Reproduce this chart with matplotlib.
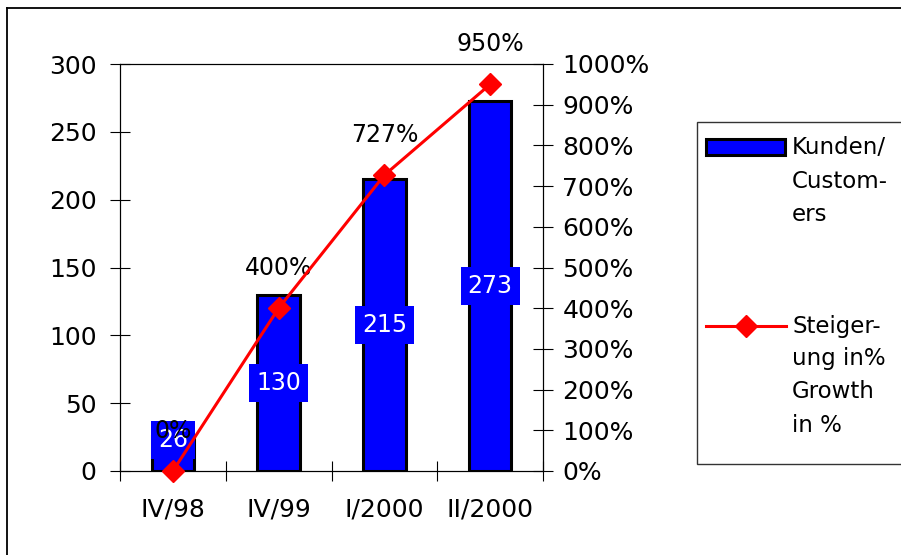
import numpy as np
import matplotlib.pyplot as plt
from matplotlib.lines import Line2D
from matplotlib.patches import Rectangle
from matplotlib.ticker import FuncFormatter

# Daten
quartale = ["IV/98", "IV/99", "I/2000", "II/2000"]
kunden = [26, 130, 215, 273]
wachstum = [0, 400, 727, 950]

label_kunden = "Kunden/\nCustom-\ners"
label_wachstum = "Steiger-\nung in%\nGrowth\nin %"

BLAU = '#0000ff'
ROT = '#ff0000'
FS = 18

W, H = 901, 555
fig = plt.figure(figsize=(W / 100, H / 100), dpi=100)
fig.patch.set_facecolor('white')


def fx(px):
    return px / W


def fy(py):
    return 1 - py / H


# Rahmen um das Diagramm (rechts/unten abgeschnitten)
fig.add_artist(Line2D([fx(7), fx(7)], [fy(8), 0], color='black', lw=1.3))
fig.add_artist(Line2D([fx(7), 1], [fy(8), fy(8)], color='black', lw=1.3))

ax = fig.add_axes([fx(120), fy(471), fx(543) - fx(120), fy(64) - fy(471)])
ax2 = ax.twinx()

x = np.arange(len(quartale))
balken = ax.bar(x, kunden, width=0.4, color=BLAU, edgecolor='black',
                linewidth=2.2, zorder=2)
ax.set_xlim(-0.5, len(quartale) - 0.5)
ax.set_ylim(0, 300)
ax2.set_ylim(0, 1000)

for xi, v in zip(x, kunden):
    ax.text(xi, max(v / 2, 23), str(v), ha='center', va='center',
            color='white', fontsize=FS - 1, zorder=4,
            bbox=dict(boxstyle='square,pad=0.3', facecolor=BLAU, edgecolor='none'))

linie, = ax2.plot(x, wachstum, color=ROT, lw=2.2, marker='D', ms=11,
                  clip_on=False, zorder=5)
for xi, v in zip(x, wachstum):
    ax2.annotate(f"{v}%", (xi, v), xytext=(0, 29), textcoords='offset points',
                 ha='center', va='center', fontsize=FS - 1, annotation_clip=False)

# Achsen
ax.set_yticks(range(0, 301, 50))
ax.tick_params(axis='y', direction='inout', length=14, width=0.8,
               pad=10, labelsize=FS)
ax.set_xticks(np.arange(-0.5, len(quartale), 1.0))
ax.set_xticklabels([])
ax.set_xticks(x, minor=True)
ax.set_xticklabels(quartale, minor=True)
ax.tick_params(axis='x', which='major', direction='inout', length=14, width=0.8)
ax.tick_params(axis='x', which='minor', length=0, pad=19, labelsize=FS)

ax2.set_yticks(range(0, 1001, 100))
ax2.yaxis.set_major_formatter(FuncFormatter(lambda v, p: f"{v:.0f}%"))
ax2.tick_params(axis='y', direction='inout', length=14, width=0.8,
                pad=7, labelsize=FS)

for a in (ax, ax2):
    for sp in a.spines.values():
        sp.set_linewidth(0.8)

# Legende (von Hand, Symbol auf Höhe der ersten Textzeile)
fig.add_artist(Rectangle((fx(697), fy(464)), 1 - fx(697) + 0.05, fy(122) - fy(464),
                         transform=fig.transFigure, facecolor='white',
                         edgecolor='#333333', lw=1.0))
fig.add_artist(Rectangle((fx(706), fy(155)), fx(785) - fx(706), fy(139) - fy(155),
                         transform=fig.transFigure, facecolor=BLAU,
                         edgecolor='black', lw=2.2))
fig.add_artist(Line2D([fx(706), fx(786)], [fy(326), fy(326)], color=ROT, lw=2.2))
fig.add_artist(Line2D([fx(746)], [fy(326)], color=ROT, marker='D', ms=11))

zeile = 33
for y0, text in ((148, label_kunden), (326, label_wachstum)):
    for i, z in enumerate(text.split("\n")):
        fig.text(fx(792), fy(y0 + i * zeile), z, ha='left', va='center',
                 fontsize=FS - 1.5)

fig.savefig('out.png', dpi=100)
